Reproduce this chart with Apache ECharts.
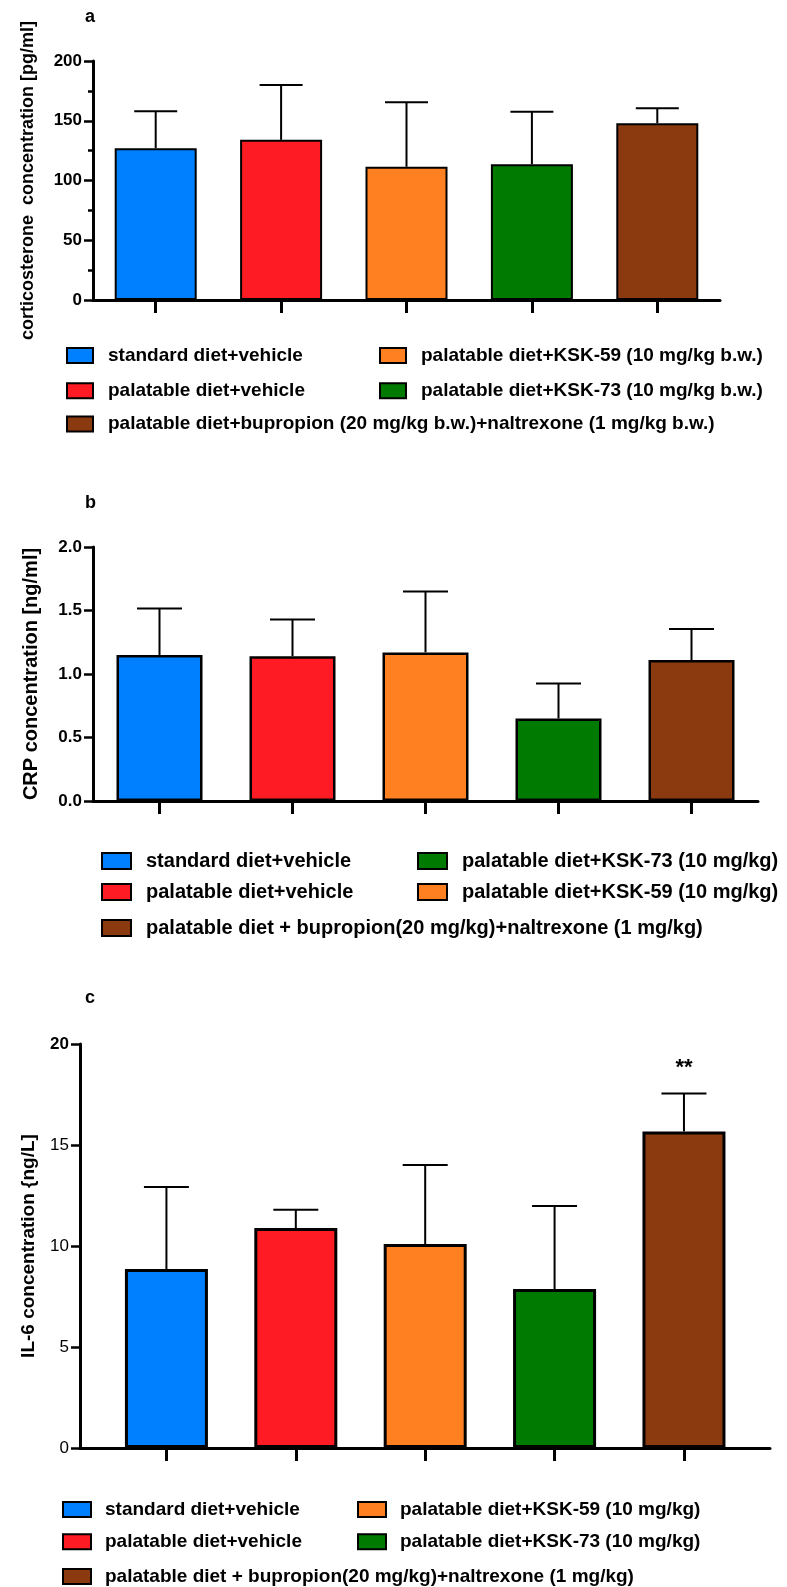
<!DOCTYPE html>
<html>
<head>
<meta charset="utf-8">
<script src="https://cdn.jsdelivr.net/npm/echarts@6.0.0/dist/echarts.min.js"></script>
<style>
  html, body { margin: 0; padding: 0; background: #fff; }
  #main { width: 787px; height: 1587px; }
</style>
</head>
<body>
<div id="main"></div>
<script>
// groups, same order in every panel (left to right)
var namesA = ['standard diet+vehicle', 'palatable diet+vehicle', 'palatable diet+KSK-59 (10 mg/kg b.w.)',
  'palatable diet+KSK-73 (10 mg/kg b.w.)', 'palatable diet+bupropion (20 mg/kg b.w.)+naltrexone (1 mg/kg b.w.)'];
var namesBC = ['standard diet+vehicle', 'palatable diet+vehicle', 'palatable diet+KSK-59 (10 mg/kg)',
  'palatable diet+KSK-73 (10 mg/kg)', 'palatable diet + bupropion(20 mg/kg)+naltrexone (1 mg/kg)'];
var colors = ['#0080ff', '#ff1b23', '#ff8020', '#007a00', '#8b3a10'];

// a: corticosterone [pg/ml]
var meanA = [127, 134, 111.5, 113.5, 148];
var sdA = [31, 46, 54, 44, 12.5];
// b: CRP [ng/ml]
var meanB = [1.15, 1.14, 1.17, 0.65, 1.11];
var sdB = [0.365, 0.29, 0.48, 0.275, 0.245];
// c: IL-6 [ng/L]
var meanC = [8.86, 10.89, 10.1, 7.87, 15.67];
var sdC = [4.06, 0.91, 3.91, 4.11, 1.88];
var sigC = ['', '', '', '', '**'];

var font = 'Liberation Sans, Arial, Helvetica, sans-serif';

var panels = [
  { letter: 'a', names: namesA, mean: meanA, sd: sdA, sig: null,
    yName: 'corticosterone  concentration [pg/ml]', nameSize: 18, nameGap: 56,
    max: 200, interval: 50, minor: true, fmt: function (v) { return String(v); },
    grid: { left: 93, top: 61, width: 627, height: 239 }, xMin: -0.5, xMax: 4.5,
    barW: 82, capW: 43, border: 2,
    letterPos: [85, 8],
    legend: { size: 19, sw: 26, sh: 15, gap: 15,
      items: [[0, 66, 355.5], [2, 379, 355.5], [1, 66, 390.7], [3, 379, 390.7], [4, 66, 424]] } },
  { letter: 'b', names: namesBC, mean: meanB, sd: sdB, sig: null,
    yName: 'CRP concentration [ng/ml]', nameSize: 20, nameGap: 52,
    max: 2, interval: 0.5, minor: false, fmt: function (v) { return v.toFixed(1); },
    grid: { left: 93, top: 547, width: 665, height: 254 }, xMin: -0.5, xMax: 4.5,
    barW: 86, capW: 45, border: 2.5,
    letterPos: [85, 494],
    legend: { size: 20, sw: 29, sh: 16, gap: 15,
      items: [[0, 101, 861], [3, 417, 861], [1, 101, 892], [2, 417, 892], [4, 101, 928]] } },
  { letter: 'c', names: namesBC, mean: meanC, sd: sdC, sig: sigC,
    yName: 'IL-6 concentration {ng/L]', nameSize: 19, nameGap: 42,
    max: 20, interval: 5, minor: false, boldTop: true, fmt: function (v) { return String(v); },
    grid: { left: 80, top: 1044, width: 690, height: 404 }, xMin: -0.668, xMax: 4.665,
    barW: 83, capW: 45, border: 3,
    letterPos: [85, 989],
    legend: { size: 19, sw: 28, sh: 15, gap: 14,
      items: [[0, 62, 1509.5], [2, 357, 1509.5], [1, 62, 1541.7], [3, 357, 1541.7], [4, 62, 1576.5]] } }
];

var option = { animation: false, textStyle: { fontFamily: font },
  title: [], grid: [], xAxis: [], yAxis: [], legend: [], series: [] };

panels.forEach(function (p, k) {
  option.title.push({ text: p.letter, left: p.letterPos[0], top: p.letterPos[1], padding: 0,
    textStyle: { fontSize: 18, fontWeight: 'bold', color: '#000', fontFamily: font } });
  option.grid.push({ left: p.grid.left, top: p.grid.top, width: p.grid.width, height: p.grid.height });
  option.xAxis.push({ type: 'value', gridIndex: k, min: p.xMin, max: p.xMax,
    axisLine: { onZero: false, lineStyle: { color: '#000', width: 3 } },
    axisTick: { show: true, customValues: [0, 1, 2, 3, 4], length: 13, lineStyle: { color: '#000', width: 3 } },
    axisLabel: { show: false }, splitLine: { show: false } });
  option.yAxis.push({ type: 'value', gridIndex: k, min: 0, max: p.max, interval: p.interval,
    name: p.yName, nameLocation: 'middle', nameGap: p.nameGap,
    nameTextStyle: { fontSize: p.nameSize, fontWeight: 'bold', color: '#000', fontFamily: font },
    axisLine: { show: true, onZero: false, lineStyle: { color: '#000', width: 3 } },
    axisTick: { show: true, length: 9, lineStyle: { color: '#000', width: 2.5 } },
    minorTick: { show: p.minor, splitNumber: 2, length: 5, lineStyle: { color: '#000', width: 2.5 } },
    axisLabel: { margin: 11, fontSize: 17, fontWeight: p.boldTop ? 'normal' : 'bold', color: '#000', fontFamily: font,
      formatter: p.boldTop ? function (v) { return v === p.max ? '{b|' + p.fmt(v) + '}' : p.fmt(v); } : p.fmt,
      rich: { b: { fontSize: 17, fontWeight: 'bold', color: '#000', fontFamily: font } } },
    splitLine: { show: false } });

  p.names.forEach(function (nm, i) {
    option.series.push({ type: 'bar', name: nm, xAxisIndex: k, yAxisIndex: k,
      barWidth: p.barW, barGap: '-100%', data: [[i, p.mean[i]]],
      itemStyle: { color: colors[i], borderColor: '#000', borderWidth: p.border } });
  });

  option.series.push({ type: 'custom', xAxisIndex: k, yAxisIndex: k, z: 3,
    data: p.mean.map(function (m, i) { return [i, m, p.sd[i]]; }),
    encode: { x: 0, y: 1 },
    renderItem: function (params, api) {
      var x = api.value(0), m = api.value(1), s = api.value(2);
      var b = api.coord([x, m]), t = api.coord([x, m + s]);
      var ls = { stroke: '#000', lineWidth: 2 };
      var kids = [
        { type: 'line', shape: { x1: b[0], y1: b[1], x2: t[0], y2: t[1] }, style: ls },
        { type: 'line', shape: { x1: t[0] - p.capW / 2, y1: t[1], x2: t[0] + p.capW / 2, y2: t[1] }, style: ls }
      ];
      if (p.sig && p.sig[params.dataIndex]) {
        kids.push({ type: 'text', x: t[0], y: t[1] - 26,
          style: { text: p.sig[params.dataIndex], fill: '#000', font: 'bold 22px ' + font,
            align: 'center', verticalAlign: 'middle' } });
      }
      return { type: 'group', children: kids };
    } });

  var L = p.legend;
  L.items.forEach(function (it) {
    option.legend.push({ data: [p.names[it[0]]], left: it[1], top: it[2] - 10, padding: 0,
      selectedMode: false, icon: 'rect', itemWidth: L.sw, itemHeight: L.sh,
      itemStyle: { borderColor: '#000', borderWidth: 2 },
      textStyle: { fontSize: L.size, fontWeight: 'bold', color: '#000', fontFamily: font,
        lineHeight: 20, padding: [0, 0, 0, L.gap - 5] } });
  });
});

var myChart = echarts.init(document.getElementById('main'));
myChart.setOption(option);
</script>
</body>
</html>
